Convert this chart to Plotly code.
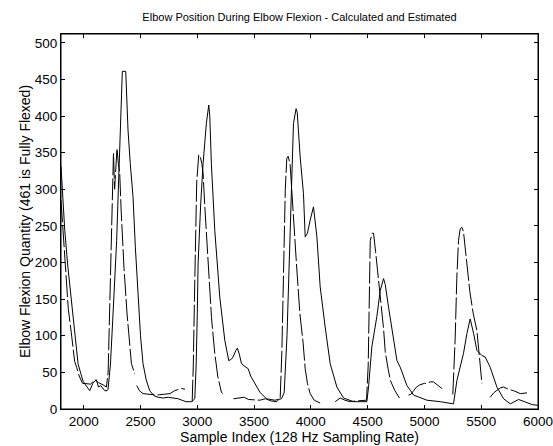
import plotly.graph_objects as go

# Calculated elbow position (solid line)
calc_x = [1800, 1815, 1833, 1860, 1890, 1920, 1950, 1975, 1994, 2011, 2030, 2053, 2080, 2111, 2130, 2150,
          2185, 2205, 2214, 2235, 2255, 2275, 2290, 2305, 2317, 2331, 2340, 2370, 2390, 2410, 2434, 2455,
          2478, 2500, 2522, 2550, 2581, 2620, 2655, 2700, 2743, 2831, 2900, 2951, 2978, 2990, 3000, 3007,
          3030, 3051, 3080, 3101, 3110, 3124, 3154, 3198, 3242, 3277, 3300, 3315, 3340, 3353, 3370, 3389,
          3420, 3448, 3470, 3491, 3520, 3551, 3609, 3683, 3741, 3765, 3790, 3805, 3817, 3835, 3847, 3870,
          3880, 3906, 3935, 3950, 3970, 3994, 4023, 4053, 4082, 4126, 4170, 4229, 4288, 4376, 4493, 4508,
          4537, 4581, 4611, 4640, 4655, 4684, 4728, 4758, 4787, 4846, 4905, 5022, 5139, 5256, 5286, 5344,
          5374, 5403, 5433, 5462, 5506, 5535, 5579, 5638, 5697, 5756, 5829, 5888, 5950, 6000]
calc_y = [331, 290, 244, 195, 153, 105, 62, 48, 38, 34, 30, 25, 35, 40, 30, 32,
          25, 25, 27, 60, 120, 175, 230, 300, 367, 426, 461, 461, 381, 335, 290, 220,
          153, 100, 62, 40, 25, 18, 16, 15, 16, 14, 10, 10, 14, 60, 130, 198,
          280, 335, 390, 415, 400, 335, 244, 153, 94, 66, 68, 71, 80, 83, 75, 62,
          58, 55, 45, 39, 30, 23, 14, 12, 14, 22, 100, 180, 244, 330, 390, 410,
          405, 344, 294, 235, 240, 258, 276, 235, 167, 112, 62, 30, 15, 10, 10, 30,
          85, 126, 162, 178, 170, 139, 94, 66, 57, 32, 19, 12, 10, 7, 39, 76,
          103, 123, 103, 80, 73, 71, 57, 30, 14, 7, 13, 10, 6, 5]

# Estimated elbow position (dashed line), windows separated by None
est_x = [1800, 1826, 1847, 1864, 1890, 1906, 1920, 1938, 1960, 1990, 2020, 2060, 2100, 2130, 2170, 2200,
         2215, 2225, 2235, 2245, 2255, 2262, 2272, 2282, 2293, 2305, 2317, 2330, 2346, 2355, 2381, 2400,
         2420, 2449, None,
         2467, 2490, 2522, 2580, 2643, 2700, 2760, 2800, 2833, 2860, 2892, None,
         2955, 2965, 2975, 2985, 2995, 3013, 3025, 3040, 3051, 3065, 3080, 3095, 3110, 3125, 3139, 3154,
         3180, 3212, 3224, None,
         3318, 3360, 3414, 3450, 3500, 3550, 3600, 3650, 3700, 3730, 3745, 3760, 3775, 3788, 3800, 3817,
         3830, 3844, 3873, 3903, 3932, 3950, 3970, 3994, 4030, 4082, None,
         4214, 4258, 4300, 4346, 4400, 4450, 4490, 4505, 4515, 4523, 4540, 4552, 4570, 4596, 4620, 4640,
         4655, 4680, 4700, 4740, 4780, None,
         4860, 4880, 4905, 4930, 4960, 5000, 5022, 5050, 5080, 5110, 5154, None,
         5250, 5262, 5271, 5285, 5300, 5315, 5330, 5344, 5360, 5374, 5400, 5430, 5462, 5485, 5506, None,
         5579, 5610, 5638, 5670, 5697, 5740, 5785, 5844, 5903]
est_y = [285, 221, 171, 137, 105, 80, 65, 57, 45, 35, 35, 34, 40, 36, 33, 30,
         50, 120, 200, 270, 330, 349, 300, 330, 356, 335, 322, 270, 212, 192, 131, 100,
         62, 48, None,
         32, 25, 21, 20, 19, 20, 21, 25, 27, 28, 27, None,
         10, 60, 150, 250, 310, 347, 345, 335, 322, 280, 240, 200, 158, 125, 101, 76,
         45, 23, 21, None,
         14, 15, 16, 13, 12, 12, 14, 11, 10, 15, 80, 200, 300, 342, 345, 335,
         300, 271, 199, 131, 90, 55, 35, 21, 12, 8, None,
         10, 15, 12, 10, 11, 12, 12, 60, 150, 230, 240, 240, 215, 180, 140, 110,
         78, 55, 39, 25, 15, None,
         19, 20, 25, 30, 33, 35, 35, 37, 37, 33, 28, None,
         20, 60, 98, 178, 230, 246, 248, 242, 220, 199, 160, 130, 107, 70, 35, None,
         16, 22, 25.5, 29, 30, 27, 25, 21, 22]

x_ticks = [2000, 2500, 3000, 3500, 4000, 4500, 5000, 5500, 6000]
y_ticks = [0, 50, 100, 150, 200, 250, 300, 350, 400, 450, 500]

FONT = "Liberation Sans, Arial, sans-serif"

fig = go.Figure()
fig.add_trace(go.Scatter(x=calc_x, y=calc_y, mode="lines", name="Calculated",
                         line=dict(color="black", width=1)))
fig.add_trace(go.Scatter(x=est_x, y=est_y, mode="lines", name="Estimated", connectgaps=False,
                         line=dict(color="black", width=1, dash="22px,3px")))

axis_common = dict(showgrid=False, zeroline=False, showline=True, linecolor="black", linewidth=1,
                   mirror="ticks", ticks="inside", ticklen=4, tickcolor="black", automargin=False,
                   ticklabeloverflow="allow",
                   tickfont=dict(family=FONT, size=13.5, color="black"))

fig.update_layout(
    width=553, height=446,
    margin=dict(l=61, r=15, t=34, b=37, autoexpand=False),
    paper_bgcolor="white", plot_bgcolor="white",
    showlegend=False,
    font=dict(family=FONT, size=13.5, color="black"),
    title=dict(text="Elbow Position During Elbow Flexion - Calculated and Estimated",
               x=0.5, xanchor="center", xref="paper", y=0.962, yanchor="middle",
               font=dict(family=FONT, size=11, color="black"), automargin=False),
    xaxis=dict(range=[1800, 6000], tickvals=x_ticks, ticktext=[str(v) for v in x_ticks],
               title=dict(text="Sample Index (128 Hz Sampling Rate)", standoff=3,
                          font=dict(family=FONT, size=14, color="black")),
               **axis_common),
    yaxis=dict(range=[0, 512], tickvals=y_ticks, ticktext=[str(v) for v in y_ticks],
               title=dict(text="Elbow Flexion Quantity (461 is Fully Flexed)", standoff=0,
                          font=dict(family=FONT, size=14, color="black")),
               **axis_common),
    shapes=[dict(type="rect", xref="paper", yref="paper", x0=0, y0=0, x1=1, y1=1,
                 line=dict(color="black", width=1), fillcolor="rgba(0,0,0,0)", layer="above")],
)

fig.write_html("out.html", config={"displayModeBar": False},
               post_script="document.body.style.margin='0';document.body.style.overflow='hidden';")
